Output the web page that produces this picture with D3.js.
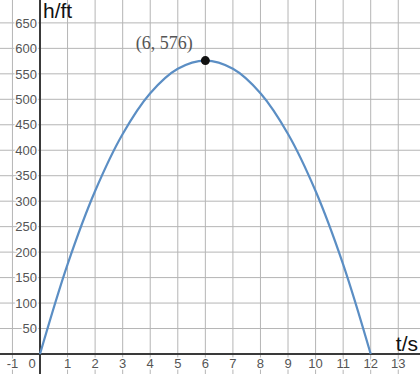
<!DOCTYPE html>
<html>
<head>
<meta charset="utf-8">
<script src="https://cdn.jsdelivr.net/npm/d3@7"></script>
<style>
	body { margin: 0; background: #fff; }
	svg { display: block; }
</style>
</head>
<body>
<svg id="chart" width="420" height="374"></svg>
<script>
// values (t in seconds, h in feet)
const times = [0, 1, 2, 3, 4, 5, 6, 7, 8, 9, 10, 11, 12]
const heights = [0, 176, 320, 432, 512, 560, 576, 560, 512, 432, 320, 176, 0]
const peak = { t: 6, h: 576, label: '(6, 576)' }
const xTicks = [-1, 0, 1, 2, 3, 4, 5, 6, 7, 8, 9, 10, 11, 12, 13, 14]
const yTicks = [-50, 0, 50, 100, 150, 200, 250, 300, 350, 400, 450, 500, 550, 600, 650, 700]

const svg = d3.select('#chart')
const width = 420
const height = 374

//Scales fitted to the grid of the picture
const x = d3.scaleLinear().domain([0, 12]).range([40, 370.7])
const y = d3.scaleLinear().domain([0, 500]).range([354, 99.3])

//Grid lines
const grid = svg.append('g')
grid
	.selectAll(null)
	.data(xTicks.filter(d => x(d) > 0 && x(d) < width))
	.enter()
	.append('line')
	.attr('x1', d => x(d))
	.attr('x2', d => x(d))
	.attr('y1', 0)
	.attr('y2', height)
	.attr('stroke', '#b5b5b5')
	.attr('stroke-width', 1)

grid
	.selectAll(null)
	.data(yTicks.filter(d => y(d) > 0 && y(d) < height))
	.enter()
	.append('line')
	.attr('x1', 0)
	.attr('x2', width)
	.attr('y1', d => y(d))
	.attr('y2', d => y(d))
	.attr('stroke', '#b5b5b5')
	.attr('stroke-width', 1)

//Main axes
svg.append('line')
	.attr('x1', x(0)).attr('x2', x(0))
	.attr('y1', 0).attr('y2', height)
	.attr('stroke', '#3a3a3a').attr('stroke-width', 2)

svg.append('line')
	.attr('x1', 0).attr('x2', width)
	.attr('y1', y(0)).attr('y2', y(0))
	.attr('stroke', '#3a3a3a').attr('stroke-width', 2)

//Tick labels with a white halo so the grid does not run through them
const labelStyle = sel =>
	sel
		.attr('fill', '#555')
		.attr('stroke', '#fff')
		.attr('stroke-width', 3)
		.attr('paint-order', 'stroke')
		.style('font-family', 'Liberation Sans, Arial, sans-serif')
		.style('font-size', '13px')

svg.append('g')
	.selectAll(null)
	.data(yTicks.filter(d => d !== 0 && y(d) > 0))
	.enter()
	.append('text')
	.attr('x', x(0) - 3)
	.attr('y', d => y(d))
	.attr('dy', '0.36em')
	.attr('text-anchor', 'end')
	.text(d => d)
	.call(labelStyle)

svg.append('g')
	.selectAll(null)
	.data(xTicks.filter(d => x(d) < width - 5))
	.enter()
	.append('text')
	.attr('x', d => (d === 0 ? x(0) - 8 : x(d)))
	.attr('y', y(0) + 14)
	.attr('text-anchor', 'middle')
	.text(d => d)
	.call(labelStyle)

//The height curve
const line = d3
	.line()
	.x(d => x(d[0]))
	.y(d => y(d[1]))
	.curve(d3.curveCatmullRom.alpha(0.5))

svg.append('path')
	.datum(d3.zip(times, heights))
	.attr('d', line)
	.attr('fill', 'none')
	.attr('stroke', '#5b8ec4')
	.attr('stroke-width', 2.2)

//Peak point and label
svg.append('circle')
	.attr('cx', x(peak.t))
	.attr('cy', y(peak.h))
	.attr('r', 4.5)
	.attr('fill', '#111')

svg.append('text')
	.attr('x', x(peak.t) - 41)
	.attr('y', y(peak.h) - 12)
	.attr('text-anchor', 'middle')
	.attr('fill', '#555')
	.style('font-family', 'Liberation Serif, Times New Roman, serif')
	.style('font-size', '18px')
	.text(peak.label)

//Axis titles
svg.append('text')
	.attr('x', 43)
	.attr('y', 18)
	.attr('fill', '#111')
	.style('font-family', 'Liberation Sans, Arial, sans-serif')
	.style('font-size', '21px')
	.text('h/ft')

svg.append('text')
	.attr('x', 418)
	.attr('y', 351)
	.attr('text-anchor', 'end')
	.attr('fill', '#111')
	.style('font-family', 'Liberation Sans, Arial, sans-serif')
	.style('font-size', '21px')
	.text('t/s')
</script>
</body>
</html>
